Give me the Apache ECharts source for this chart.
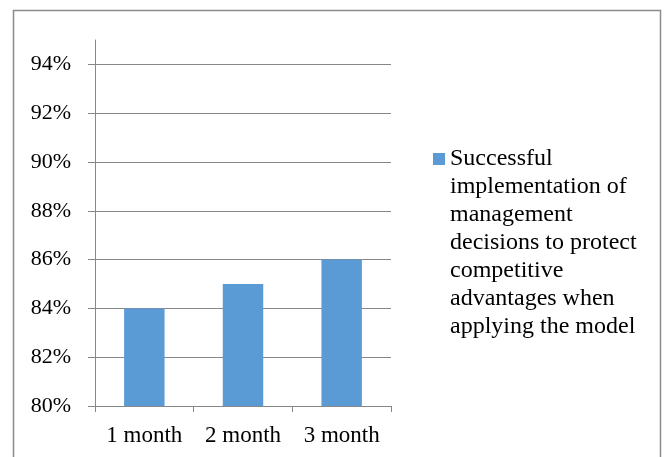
<!DOCTYPE html>
<html>
<head>
<meta charset="utf-8">
<script src="https://cdn.jsdelivr.net/npm/echarts@6/dist/echarts.min.js"></script>
<style>html,body{margin:0;padding:0;background:#fff}#c{width:665px;height:457px}</style>
</head>
<body>
<div id="c"></div>
<script>
const categories = ['1 month', '2 month', '3 month'];
const values = [84, 85, 86];
const seriesName = 'Successful\nimplementation of\nmanagement\ndecisions to protect\ncompetitive\nadvantages when\napplying the model';
const yMin = 80, yMax = 95, yStep = 2;

const chart = echarts.init(document.getElementById('c'), null, {renderer: 'canvas'});
const gray = '#878787';
const font = '"Liberation Serif", "Times New Roman", serif';
const splitColors = [];
for (let v = yMin; v < yMax; v += yStep) splitColors.push(gray);
splitColors.push('rgba(0,0,0,0)');

chart.setOption({
  animation: false,
  graphic: [{
    type: 'rect', shape: {x: 13.5, y: 10.5, width: 647, height: 470},
    style: {fill: 'none', stroke: '#8c8c8c', lineWidth: 1.5}, silent: true
  }],
  grid: {left: 95, right: 274, top: 40, bottom: 51},
  legend: {
    left: 433, top: -23, padding: 0,
    itemWidth: 12, itemHeight: 12, itemGap: 5,
    icon: 'rect',
    formatter: name => '\n\n\n\n\n\n' + name,
    textStyle: {fontFamily: font, fontSize: 24, color: '#000', lineHeight: 28},
    data: [seriesName]
  },
  xAxis: {
    type: 'category', data: categories,
    axisLine: {lineStyle: {color: gray, width: 1}},
    axisTick: {show: true, alignWithLabel: false, length: 6, lineStyle: {color: gray}},
    axisLabel: {fontFamily: font, fontSize: 23, color: '#000', margin: 18, interval: 0, hideOverlap: false}
  },
  yAxis: {
    type: 'value', min: yMin, max: yMax, interval: yStep,
    axisLine: {show: true, lineStyle: {color: gray, width: 1}},
    axisTick: {show: true, length: 7, lineStyle: {color: gray}},
    axisLabel: {fontFamily: font, fontSize: 22, color: '#000', margin: 24, showMaxLabel: false,
      formatter: v => (v === yMax ? '' : v + '%')},
    splitLine: {show: true, lineStyle: {color: splitColors, width: 1}}
  },
  series: [{
    name: seriesName, type: 'bar', data: values,
    barWidth: '41%',
    itemStyle: {color: '#5B9BD5'}
  }]
});
</script>
</body>
</html>
